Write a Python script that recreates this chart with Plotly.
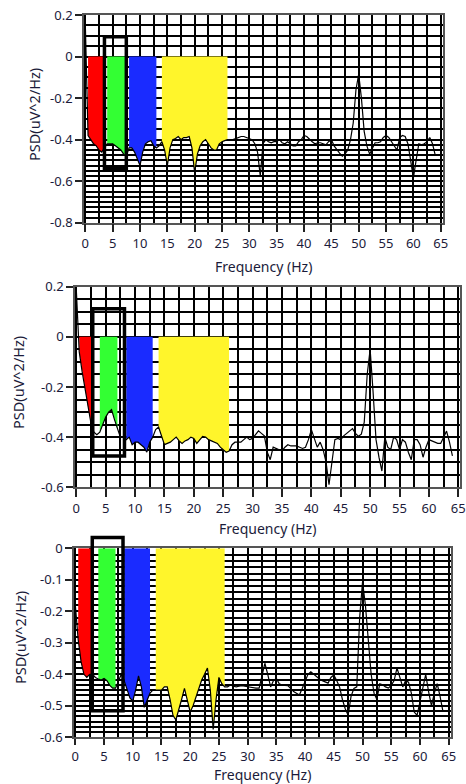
import numpy as np
import plotly.graph_objects as go

# ---------------- data ----------------
freq_hz = [i * 0.5 for i in range(129)]  # 0 .. 64 Hz, 0.5 Hz bins

psd_top = [
    0.16, -0.38, -0.40, -0.42, -0.43, -0.45, -0.46, -0.44, -0.42, -0.42,
    -0.42, -0.43, -0.44, -0.45, -0.47, -0.48, -0.44, -0.44, -0.46, -0.49,
    -0.525, -0.46, -0.42, -0.41, -0.405, -0.43, -0.44, -0.43, -0.41, -0.45,
    -0.525, -0.44, -0.40, -0.395, -0.385, -0.40, -0.39, -0.39, -0.385, -0.44,
    -0.56, -0.47, -0.43, -0.41, -0.40, -0.42, -0.44, -0.45, -0.45, -0.42,
    -0.41, -0.405, -0.40, -0.40, -0.40, -0.395, -0.39, -0.385, -0.385, -0.39,
    -0.395, -0.40, -0.42, -0.46, -0.575, -0.42, -0.40, -0.41, -0.415, -0.41,
    -0.41, -0.40, -0.415, -0.42, -0.41, -0.42, -0.43, -0.43, -0.41, -0.40,
    -0.38, -0.385, -0.40, -0.41, -0.42, -0.415, -0.415, -0.42, -0.425, -0.41,
    -0.40, -0.43, -0.45, -0.465, -0.48, -0.47, -0.45, -0.40, -0.32, -0.16,
    -0.085, -0.20, -0.36, -0.43, -0.47, -0.44, -0.415, -0.415, -0.41, -0.39,
    -0.38, -0.39, -0.41, -0.43, -0.45, -0.39, -0.38, -0.385, -0.42, -0.50,
    -0.585, -0.50, -0.42, -0.425, -0.42, -0.41, -0.39, -0.42, -0.475,
]

psd_mid = [
    0.19, -0.06, -0.14, -0.21, -0.28, -0.345, -0.38, -0.39, -0.38, -0.35,
    -0.32, -0.30, -0.29, -0.33, -0.37, -0.40, -0.40, -0.41, -0.40, -0.43,
    -0.42, -0.42, -0.43, -0.44, -0.46, -0.42, -0.40, -0.37, -0.36, -0.40,
    -0.43, -0.425, -0.42, -0.41, -0.40, -0.415, -0.425, -0.415, -0.41, -0.40,
    -0.405, -0.425, -0.41, -0.397, -0.40, -0.41, -0.415, -0.42, -0.425, -0.44,
    -0.45, -0.46, -0.455, -0.43, -0.42, -0.42, -0.42, -0.41, -0.40, -0.41,
    -0.405, -0.39, -0.375, -0.385, -0.395, -0.46, -0.49, -0.44, -0.445, -0.45,
    -0.455, -0.44, -0.43, -0.435, -0.435, -0.435, -0.44, -0.445, -0.44, -0.41,
    -0.37, -0.41, -0.44, -0.42, -0.45, -0.50, -0.59, -0.50, -0.41, -0.405,
    -0.41, -0.395, -0.385, -0.375, -0.366, -0.385, -0.396, -0.388, -0.34, -0.15,
    -0.05, -0.22, -0.41, -0.48, -0.535, -0.40, -0.44, -0.45, -0.40, -0.41,
    -0.45, -0.41, -0.42, -0.46, -0.49, -0.41, -0.41, -0.43, -0.48, -0.44,
    -0.41, -0.415, -0.42, -0.425, -0.425, -0.40, -0.376, -0.42, -0.475,
]

psd_bot = [
    -0.18, -0.29, -0.36, -0.40, -0.41, -0.40, -0.40, -0.41, -0.415, -0.418,
    -0.413, -0.42, -0.435, -0.444, -0.444, -0.42, -0.40, -0.42, -0.45, -0.475,
    -0.485, -0.45, -0.405, -0.44, -0.505, -0.48, -0.46, -0.45, -0.45, -0.45,
    -0.45, -0.44, -0.44, -0.48, -0.53, -0.545, -0.515, -0.48, -0.445, -0.48,
    -0.52, -0.50, -0.47, -0.44, -0.418, -0.40, -0.38, -0.45, -0.575, -0.48,
    -0.41, -0.43, -0.44, -0.44, -0.434, -0.438, -0.44, -0.438, -0.436, -0.438,
    -0.44, -0.44, -0.442, -0.444, -0.444, -0.40, -0.365, -0.40, -0.44, -0.42,
    -0.413, -0.43, -0.434, -0.435, -0.436, -0.445, -0.455, -0.46, -0.466, -0.445,
    -0.42, -0.40, -0.392, -0.40, -0.41, -0.415, -0.42, -0.424, -0.428, -0.41,
    -0.402, -0.42, -0.44, -0.48, -0.51, -0.53, -0.47, -0.445, -0.44, -0.22,
    -0.106, -0.18, -0.30, -0.40, -0.46, -0.48, -0.43, -0.433, -0.44, -0.444,
    -0.435, -0.42, -0.38, -0.41, -0.44, -0.42, -0.425, -0.46, -0.52, -0.53,
    -0.49, -0.44, -0.40, -0.455, -0.50, -0.46, -0.43, -0.47, -0.518,
]

# EEG bands (Hz) per panel: delta, theta, alpha, beta
bands_top = [(0.5, 3.5), (4.0, 7.5), (8.0, 13.0), (14.0, 26.0)]
bands_mid = [(0.5, 2.5), (4.0, 7.0), (8.5, 13.0), (14.0, 26.0)]
bands_bot = [(0.5, 3.0), (4.0, 7.0), (8.5, 13.0), (14.0, 26.0)]
band_colors = ["#ff0000", "#33ff33", "#1a2bff", "#fff52b"]

# highlighted box (f0, f1, psd0, psd1)
box_top = (3.5, 7.5, -0.54, 0.095)
box_mid = (2.8, 8.2, -0.475, 0.112)
box_bot = (2.95, 8.3, -0.516, 0.034)

xtick_vals = list(range(0, 70, 5))
ytick_top = [0.2, 0, -0.2, -0.4, -0.6, -0.8]
ytext_top = ["0.2", "0", "-0.2", "-0.4", "-0.6", "-0.8"]
ytick_mid = [0.2, 0, -0.2, -0.4, -0.6]
ytext_mid = ["0.2", "0", "-0.2", "-0.4", "-0.6"]
ytick_bot = [0, -0.1, -0.2, -0.3, -0.4, -0.5, -0.6]
ytext_bot = ["0", "-0.1", "-0.2", "-0.3", "-0.4", "-0.5", "-0.6"]

# ---------------- layout helpers ----------------
W, H = 466, 784
FONT = "Noto Sans"
TXT = "#1b1b3a"


def px_x(p):
    return p / W


def px_y(p):
    return 1 - p / H


panels = [
    dict(psd=psd_top, bands=bands_top, box=box_top,
         xdom=(84, 443), ydom=(15, 222.7), xr=(-0.24, 65.42), yr=(-0.8, 0.2),
         ytv=ytick_top, ytt=ytext_top, xtl=8,
         grid=sorted(set([round(v, 4) for v in np.arange(-0.4, 0.2001, 0.05)] +
                         [round(v, 4) for v in np.arange(-0.8, -0.3999, 0.025)])),
         ytitle=(34, 115), xtitle=(263.5, 266)),
    dict(psd=psd_mid, bands=bands_mid, box=box_mid,
         xdom=(75, 460), ydom=(286.7, 487.3), xr=(-0.22, 65.29), yr=(-0.6, 0.2),
         ytv=ytick_mid, ytt=ytext_mid, xtl=8,
         grid=[round(v, 4) for v in np.arange(-0.6, 0.2001, 0.05)],
         ytitle=(18, 383), xtitle=(267.5, 528)),
    dict(psd=psd_bot, bands=bands_bot, box=box_bot,
         xdom=(74, 450.7), ydom=(548.3, 737.3), xr=(-0.23, 65.35), yr=(-0.6, 0.0),
         ytv=ytick_bot, ytt=ytext_bot, xtl=6,
         grid=sorted(set([round(v, 4) for v in np.arange(-0.4, 0.0001, 0.02)] +
                         [round(v, 4) for v in np.linspace(-0.6, -0.4, 13)])),
         ytitle=(20, 638), xtitle=(262.5, 774)),
]

fig = go.Figure()
shapes = []
annotations = []
layout_axes = {}

for i, p in enumerate(panels, start=1):
    xa = "x" if i == 1 else f"x{i}"
    ya = "y" if i == 1 else f"y{i}"

    # band fills (between 0 and the PSD curve)
    for (lo, hi), col in zip(p["bands"], band_colors):
        bx = [f for f in freq_hz if lo - 1e-9 <= f <= hi + 1e-9]
        by = [v for f, v in zip(freq_hz, p["psd"]) if lo - 1e-9 <= f <= hi + 1e-9]
        fig.add_trace(go.Scatter(
            x=bx + bx[::-1], y=by + [0] * len(bx), xaxis=xa, yaxis=ya,
            mode="lines", fill="toself", fillcolor=col,
            line=dict(width=0, color=col), hoverinfo="skip", showlegend=False))

    # PSD line
    fig.add_trace(go.Scatter(
        x=freq_hz, y=p["psd"], xaxis=xa, yaxis=ya, mode="lines",
        line=dict(color="black", width=1.2), showlegend=False))

    # highlight box
    f0, f1, v0, v1 = p["box"]
    ymin, ymax = p["yr"]
    if v1 <= ymax:
        shapes.append(dict(type="rect", xref=xa, yref=ya, x0=f0, x1=f1, y0=v0, y1=v1,
                           line=dict(color="black", width=3.5), fillcolor="rgba(0,0,0,0)"))
    else:
        span = ymax - ymin
        shapes.append(dict(type="rect", xref=xa, yref=f"{ya} domain", x0=f0, x1=f1,
                           y0=(v0 - ymin) / span, y1=(v1 - ymin) / span,
                           line=dict(color="black", width=3.5), fillcolor="rgba(0,0,0,0)"))

    xkey = "xaxis" if i == 1 else f"xaxis{i}"
    ykey = "yaxis" if i == 1 else f"yaxis{i}"
    layout_axes[xkey] = dict(
        domain=[px_x(p["xdom"][0]), px_x(p["xdom"][1])], range=list(p["xr"]),
        anchor=ya, tickmode="array", tickvals=xtick_vals, automargin=False,
        ticks="outside", ticklen=p["xtl"], tickwidth=1.5, tickcolor="#222",
        showgrid=True, gridcolor="black", gridwidth=1.5,
        minor=dict(tickmode="linear", tick0=0, dtick=2.5, showgrid=True,
                   gridcolor="black", gridwidth=1.5, ticks=""),
        showline=True, mirror=True, linecolor="#555", linewidth=1.5,
        zeroline=False, tickfont=dict(family=FONT, size=13, color=TXT))
    layout_axes[ykey] = dict(
        domain=[px_y(p["ydom"][1]), px_y(p["ydom"][0])], range=list(p["yr"]),
        anchor=xa, tickmode="array", tickvals=p["ytv"], ticktext=p["ytt"],
        automargin=False,
        ticks="outside", ticklen=7, tickwidth=1.5, tickcolor="#222",
        showgrid=True, gridcolor="black", gridwidth=1.5,
        minor=dict(tickmode="array", tickvals=p["grid"], showgrid=True,
                   gridcolor="black", gridwidth=1.5, ticks=""),
        showline=True, mirror=True, linecolor="#555", linewidth=1.5,
        zeroline=False, tickfont=dict(family=FONT, size=13, color=TXT))

    annotations.append(dict(text="PSD(uV^2/Hz)", xref="paper", yref="paper",
                            x=px_x(p["ytitle"][0]), y=px_y(p["ytitle"][1]),
                            textangle=-90, showarrow=False, xanchor="center", yanchor="middle",
                            font=dict(family=FONT, size=14.5, color=TXT)))
    annotations.append(dict(text="Frequency (Hz)", xref="paper", yref="paper",
                            x=px_x(p["xtitle"][0]), y=px_y(p["xtitle"][1]),
                            showarrow=False, xanchor="center", yanchor="middle",
                            borderpad=0,
                            font=dict(family=FONT, size=14, color=TXT)))

fig.update_layout(
    template="none",
    width=W, height=H, margin=dict(l=0, r=0, t=0, b=0, autoexpand=False),
    paper_bgcolor="white", plot_bgcolor="white",
    shapes=shapes, annotations=annotations, showlegend=False,
    **layout_axes)

fig.write_html("out.html", config={"displayModeBar": False},
               post_script="document.body.style.margin='0';document.body.style.overflow='hidden';")
